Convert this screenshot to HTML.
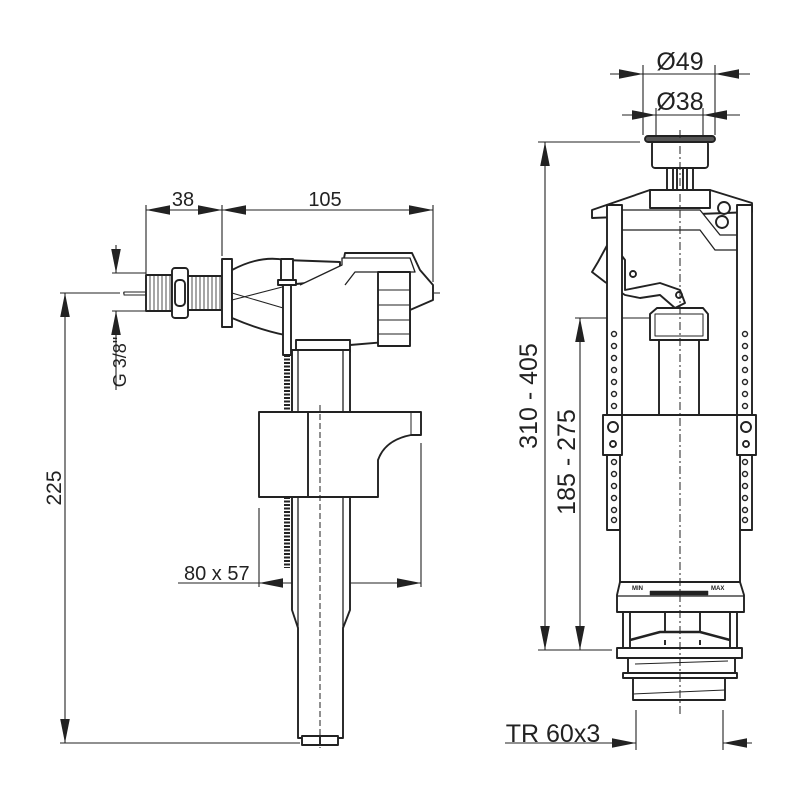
<!DOCTYPE html>
<html><head><meta charset="utf-8"><style>
html,body{margin:0;padding:0;background:#fff}
svg{display:block}
text{font-family:"Liberation Sans",Arial,sans-serif;fill:#222}
</style></head><body>
<svg width="800" height="800" viewBox="0 0 800 800" xmlns="http://www.w3.org/2000/svg">
<defs>
<marker id="a" viewBox="0 0 10 4" refX="10" refY="2" markerWidth="24" markerHeight="9.6" markerUnits="userSpaceOnUse" orient="auto"><path d="M0,0L10,2L0,4z" fill="#222"/></marker>
</defs>
<g stroke="#222" stroke-width="1.1" fill="none">
<line x1="146" y1="210" x2="433" y2="210"/>
<line x1="195" y1="210" x2="146" y2="210" marker-end="url(#a)"/>
<line x1="175" y1="210" x2="222" y2="210" marker-end="url(#a)"/>
<line x1="260" y1="210" x2="222" y2="210" marker-end="url(#a)"/>
<line x1="400" y1="210" x2="433" y2="210" marker-end="url(#a)"/>
<line x1="146" y1="205" x2="146" y2="274"/>
<line x1="222" y1="205" x2="222" y2="256"/>
<line x1="433" y1="205" x2="433" y2="282"/>
<line x1="112" y1="273" x2="146" y2="273"/>
<line x1="112" y1="311" x2="146" y2="311"/>
<line x1="116" y1="245" x2="116" y2="273" marker-end="url(#a)"/>
<line x1="116" y1="390" x2="116" y2="311" marker-end="url(#a)"/>
<line x1="60" y1="293" x2="110" y2="293"/>
<line x1="65" y1="330" x2="65" y2="293" marker-end="url(#a)"/>
<line x1="65" y1="700" x2="65" y2="743" marker-end="url(#a)"/>
<line x1="65" y1="330" x2="65" y2="700"/>
<line x1="60" y1="743" x2="300" y2="743"/>
<line x1="110" y1="293" x2="440" y2="293" stroke-dasharray="10,3,2,3"/>
<line x1="178" y1="583" x2="421" y2="583"/>
<line x1="285" y1="583" x2="259" y2="583" marker-end="url(#a)"/>
<line x1="395" y1="583" x2="421" y2="583" marker-end="url(#a)"/>
<line x1="259" y1="508" x2="259" y2="587"/>
<line x1="421" y1="443" x2="421" y2="587"/>
</g>
<g stroke="#222" stroke-width="1.9" fill="#fff" stroke-linejoin="round">
<rect x="124" y="292" width="22" height="3" stroke-width="1"/>
<rect x="146" y="275" width="26" height="36"/>
<rect x="188" y="276" width="34" height="34"/>
<rect x="172" y="268" width="16" height="50" rx="3"/>
<rect x="175" y="280" width="10" height="26" rx="4"/>
<rect x="222" y="259" width="10" height="68"/>
<path d="M232,270 Q260,255 285,260 L340,262 L340,330 L285,335 Q260,330 232,318 Z"/>
<line x1="232" y1="293" x2="290" y2="310" stroke-width="1"/>
<line x1="232" y1="300" x2="290" y2="285" stroke-width="1"/>
<path d="M285,285 L340,280 L345,253 L412,253 L420,270 L433,285 L433,300 L410,310 L410,340 L350,345 L345,350 L290,350 Z"/>
<path d="M300,285 L342,265 L342,258 L410,258 L415,272 L355,272 L345,285" stroke-width="1.3"/>
<rect x="378" y="272" width="32" height="74"/>
<line x1="378" y1="290" x2="410" y2="290" stroke-width="1"/>
<line x1="378" y1="305" x2="410" y2="305" stroke-width="1"/>
<line x1="378" y1="320" x2="410" y2="320" stroke-width="1"/>
<line x1="378" y1="334" x2="410" y2="334" stroke-width="1"/>
<rect x="296" y="340" width="54" height="12"/>
<rect x="281" y="259" width="12" height="22"/>
<rect x="278" y="280" width="18" height="5"/>
<rect x="283" y="285" width="8" height="70"/>
<path d="M292,350 L350,350 L350,610 L343,628 L343,738 L298,738 L298,628 L292,610 Z"/>
<line x1="298" y1="350" x2="298" y2="628" stroke-width="1.3"/>
<line x1="343" y1="350" x2="343" y2="628" stroke-width="1.3"/>
<rect x="302" y="736" width="36" height="9"/>
<line x1="320" y1="736" x2="320" y2="745"/>
<path d="M287,355 L287,412 M287,497 L287,568" stroke-width="6" stroke-dasharray="2,1.5"/>
<path d="M259,412 L421,412 L421,435 L411,435 Q385,440 378,460 L378,497 L259,497 Z"/>
<line x1="308" y1="412" x2="308" y2="497"/>
<line x1="411" y1="412" x2="411" y2="435" stroke-width="1"/>
</g>
<g stroke="#222" stroke-width="0.8">
<path d="M150,275v36M154,275v36M158,275v36M162,275v36M166,275v36M170,275v36M192,276v34M196,276v34M200,276v34M204,276v34M208,276v34M212,276v34M216,276v34M220,276v34"/>
</g>
<line x1="320" y1="405" x2="320" y2="748" stroke="#222" stroke-width="1" stroke-dasharray="6,3"/>

<g stroke="#222" stroke-width="1.1" fill="none">
<line x1="643" y1="65" x2="643" y2="135"/>
<line x1="715" y1="65" x2="715" y2="135"/>
<line x1="656" y1="108" x2="656" y2="135"/>
<line x1="703" y1="108" x2="703" y2="135"/>
<line x1="610" y1="74" x2="643" y2="74" marker-end="url(#a)"/>
<line x1="750" y1="74" x2="715" y2="74" marker-end="url(#a)"/>
<line x1="643" y1="74" x2="715" y2="74"/>
<line x1="622" y1="115" x2="656" y2="115" marker-end="url(#a)"/>
<line x1="740" y1="115" x2="703" y2="115" marker-end="url(#a)"/>
<line x1="656" y1="115" x2="703" y2="115"/>
<line x1="538" y1="142" x2="640" y2="142"/>
<line x1="545" y1="180" x2="545" y2="142" marker-end="url(#a)"/>
<line x1="545" y1="610" x2="545" y2="650" marker-end="url(#a)"/>
<line x1="545" y1="180" x2="545" y2="610"/>
<line x1="538" y1="650" x2="612" y2="650"/>
<line x1="575" y1="318" x2="650" y2="318"/>
<line x1="580" y1="355" x2="580" y2="318" marker-end="url(#a)"/>
<line x1="580" y1="615" x2="580" y2="650" marker-end="url(#a)"/>
<line x1="580" y1="355" x2="580" y2="615"/>
<line x1="636" y1="710" x2="636" y2="750"/>
<line x1="723" y1="710" x2="723" y2="750"/>
<line x1="505" y1="743" x2="636" y2="743"/>
<line x1="610" y1="743" x2="636" y2="743" marker-end="url(#a)"/>
<line x1="752" y1="743" x2="723" y2="743" marker-end="url(#a)"/>
</g>
<g stroke="#222" stroke-width="1.9" fill="#fff" stroke-linejoin="round">
<rect x="652" y="141" width="56" height="27" rx="3"/>
<rect x="645" y="136" width="70" height="6" rx="3" fill="#555"/>
<rect x="667" y="168" width="6" height="22"/><rect x="677" y="168" width="6" height="22"/><rect x="687" y="168" width="6" height="22"/>
<path d="M592,210 L650,190 L710,190 L752,203 L752,212 L592,218 Z"/>
<rect x="650" y="190" width="60" height="18"/>
<path d="M622,210 L700,210 L720,235 L738,235 L738,250 L715,250 L700,230 L622,230 Z" stroke-width="1.3"/>
<circle cx="724" cy="208" r="6"/><circle cx="722" cy="222" r="6"/>
<path d="M598,262 L610,240 L625,260 L625,290 L660,283 L680,290 L685,303 L675,308 L660,295 L640,298 L625,295 L605,282 L592,272 Z"/>
<circle cx="633" cy="274" r="3"/><circle cx="679" cy="295" r="3"/>
<rect x="659" y="335" width="40" height="82"/>
<path d="M650,340 L650,314 L657,308 L703,308 L708,314 L708,340 Z"/>
<rect x="655" y="314" width="48" height="22" stroke-width="1"/>
<rect x="607" y="205" width="15" height="325"/>
<rect x="737" y="205" width="15" height="325"/>
<rect x="620" y="415" width="120" height="168"/>
<rect x="603" y="415" width="19" height="40"/><rect x="737" y="415" width="19" height="40"/>
<circle cx="613" cy="427" r="5"/><circle cx="746" cy="427" r="5"/>
<circle cx="613" cy="444" r="3"/><circle cx="746" cy="444" r="3"/>
<path d="M620,582 L740,582 L744,595 L744,612 L617,612 L617,595 Z"/>
<line x1="617" y1="596" x2="744" y2="596" stroke-width="1.2"/>
<rect x="650" y="591" width="58" height="4" fill="#222" stroke-width="0.5"/>
<rect x="623" y="612" width="114" height="36" fill="none"/>
<line x1="630" y1="612" x2="630" y2="648"/><line x1="730" y1="612" x2="730" y2="648"/>
<line x1="665" y1="612" x2="665" y2="645"/><line x1="700" y1="612" x2="700" y2="645"/>
<path d="M630,640 L660,632 L700,632 L730,640" stroke-width="2.5"/>
<rect x="617" y="648" width="125" height="10"/>
<rect x="628" y="658" width="107" height="15"/>
<line x1="635" y1="664" x2="728" y2="661" stroke-width="1"/>
<rect x="623" y="673" width="114" height="5"/>
<rect x="633" y="678" width="92" height="22"/>
<line x1="633" y1="694" x2="725" y2="690" stroke-width="1"/>
</g>
<g stroke="#222" stroke-width="1.4" fill="#fff">
<circle cx="614" cy="334" r="2.5"/><circle cx="614" cy="346" r="2.5"/><circle cx="614" cy="358" r="2.5"/><circle cx="614" cy="370" r="2.5"/><circle cx="614" cy="382" r="2.5"/><circle cx="614" cy="394" r="2.5"/><circle cx="614" cy="406" r="2.5"/>
<circle cx="745" cy="334" r="2.5"/><circle cx="745" cy="346" r="2.5"/><circle cx="745" cy="358" r="2.5"/><circle cx="745" cy="370" r="2.5"/><circle cx="745" cy="382" r="2.5"/><circle cx="745" cy="394" r="2.5"/><circle cx="745" cy="406" r="2.5"/>
<circle cx="614" cy="462" r="2.5"/><circle cx="614" cy="474" r="2.5"/><circle cx="614" cy="486" r="2.5"/><circle cx="614" cy="498" r="2.5"/><circle cx="614" cy="510" r="2.5"/><circle cx="614" cy="520" r="2.5"/>
<circle cx="745" cy="462" r="2.5"/><circle cx="745" cy="474" r="2.5"/><circle cx="745" cy="486" r="2.5"/><circle cx="745" cy="498" r="2.5"/><circle cx="745" cy="510" r="2.5"/><circle cx="745" cy="520" r="2.5"/>
</g>
<line x1="680" y1="130" x2="680" y2="715" stroke="#222" stroke-width="1" stroke-dasharray="8,3,2,3"/>

<g font-size="20">
<text x="183" y="206" text-anchor="middle">38</text>
<text x="325" y="206" text-anchor="middle">105</text>
<text x="184" y="580">80 x 57</text>
<text transform="translate(61,488) rotate(-90)" text-anchor="middle" font-size="21">225</text>
<text transform="translate(126,362) rotate(-90)" text-anchor="middle" font-size="18">G 3/8"</text>
</g>
<g font-size="25" text-anchor="middle">
<text x="680" y="70">Ø49</text>
<text x="680" y="110">Ø38</text>
<text x="553" y="742">TR 60x3</text>
<text transform="translate(537,396) rotate(-90)">310 - 405</text>
<text transform="translate(575,462) rotate(-90)">185 - 275</text>
</g>
<text x="632" y="590" font-size="6" font-weight="bold">MIN</text>
<text x="711" y="590" font-size="6" font-weight="bold">MAX</text>
</svg>
</body></html>
